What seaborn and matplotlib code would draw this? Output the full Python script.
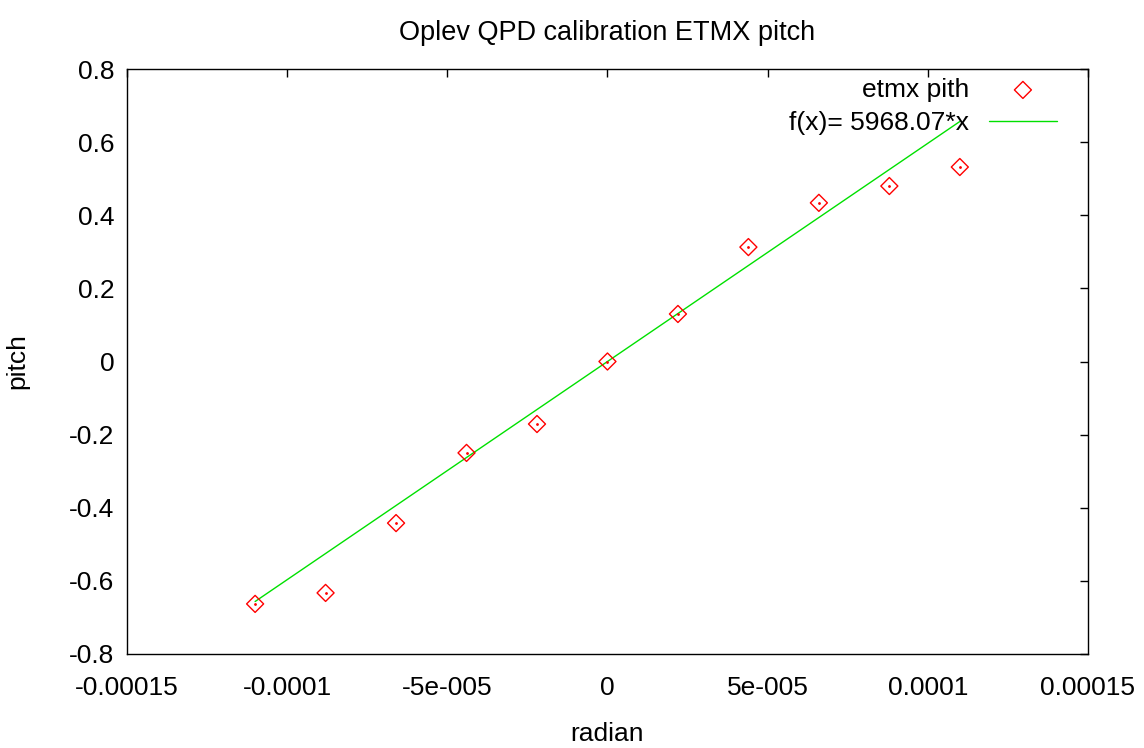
import numpy as np
import pandas as pd
import matplotlib
matplotlib.use("Agg")
import matplotlib.pyplot as plt
import seaborn as sns
from matplotlib.ticker import FixedLocator, FixedFormatter

# measured points
radian = [-1.1e-4, -8.8e-5, -6.6e-5, -4.4e-5, -2.2e-5, 0.0,
          2.2e-5, 4.4e-5, 6.6e-5, 8.8e-5, 1.1e-4]
pitch = [-0.663, -0.633, -0.442, -0.250, -0.171, 0.0,
         0.130, 0.313, 0.434, 0.480, 0.532]
slope = 5968.07

x_ticks = [-0.00015, -0.0001, -0.00005, 0, 0.00005, 0.0001, 0.00015]
x_labels = ["-0.00015", "-0.0001", "-5e-005", "0", "5e-005", "0.0001", "0.00015"]
y_ticks = [-0.8, -0.6, -0.4, -0.2, 0, 0.2, 0.4, 0.6, 0.8]
y_labels = ["-0.8", "-0.6", "-0.4", "-0.2", "0", "0.2", "0.4", "0.6", "0.8"]

sns.set_style("white")
plt.rcParams['font.family'] = ['Liberation Sans', 'DejaVu Sans']
plt.rcParams['text.color'] = 'black'
plt.rcParams['axes.labelcolor'] = 'black'

FS = 19

df = pd.DataFrame({"radian": radian, "pitch": pitch})
fit = pd.DataFrame({"radian": [min(radian), max(radian)]})
fit["pitch"] = slope * fit["radian"]

fig = plt.figure(figsize=(11.44, 7.48), dpi=100)
ax = fig.add_axes([0.111, 0.1257, 0.840, 0.782])

sns.scatterplot(data=df, x="radian", y="pitch", ax=ax, marker="D",
                facecolor="none", edgecolor="#ff0000", linewidth=1.0, s=75,
                label="etmx pith", zorder=3)
ax.scatter(df["radian"], df["pitch"], s=1, color="#ff0000", zorder=4)
sns.lineplot(data=fit, x="radian", y="pitch", ax=ax, color="#00e000",
             linewidth=1.0, label="f(x)= 5968.07*x", zorder=2)

ax.set_xlim(-0.00015, 0.00015)
ax.set_ylim(-0.8, 0.8)
ax.xaxis.set_major_locator(FixedLocator(x_ticks))
ax.xaxis.set_major_formatter(FixedFormatter(x_labels))
ax.yaxis.set_major_locator(FixedLocator(y_ticks))
ax.yaxis.set_major_formatter(FixedFormatter(y_labels))
ax.tick_params(direction="in", length=6, width=1, top=True, right=True,
               labelsize=FS, colors="black")
ax.tick_params(axis="x", pad=16)
ax.tick_params(axis="y", pad=9)
for sp in ax.spines.values():
    sp.set_visible(True)
    sp.set_color("black")
    sp.set_linewidth(1)

ax.set_xlabel("radian", fontsize=FS, labelpad=16)
ax.set_ylabel("pitch", fontsize=FS, labelpad=29)
ax.set_title("Oplev QPD calibration ETMX pitch", fontsize=19.5, pad=21)

ax.legend(loc="upper right", frameon=False, markerfirst=False, fontsize=FS,
          handlelength=2.6, borderaxespad=0.0, labelspacing=0.35,
          bbox_to_anchor=(0.979, 1.003), handletextpad=0.75)

fig.savefig("out.png", dpi=100, facecolor="white")
